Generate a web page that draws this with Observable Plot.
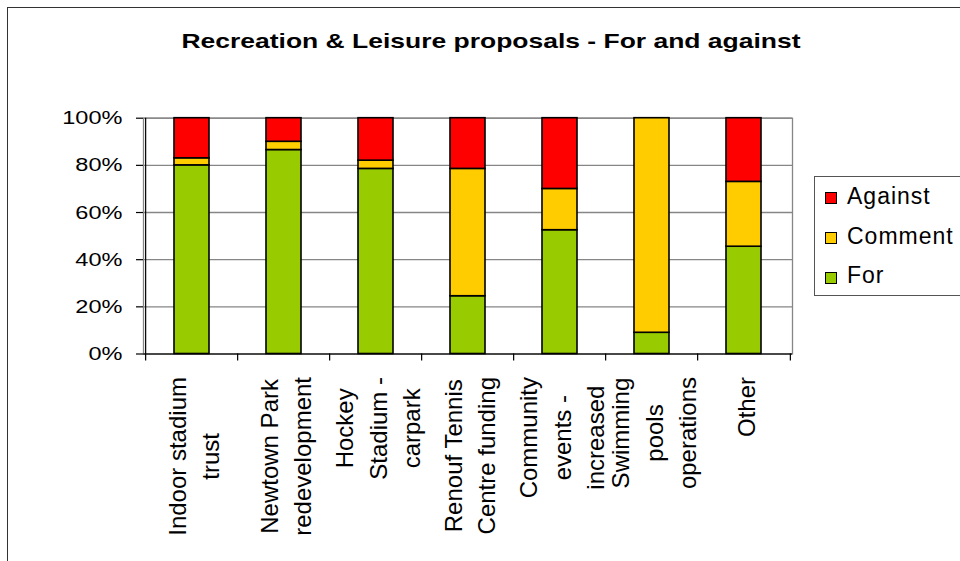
<!DOCTYPE html>
<html>
<head>
<meta charset="utf-8">
<script src="https://cdn.jsdelivr.net/npm/d3@7"></script>
<script src="https://cdn.jsdelivr.net/npm/@observablehq/plot@0.6"></script>
<style>
  html, body { margin: 0; padding: 0; background: #fff; overflow: hidden; }
  #wrap { position: relative; width: 960px; height: 561px; overflow: hidden;
          font-family: "Liberation Sans", Arial, sans-serif; color: #000; }
  #border { position: absolute; left: 7px; top: 7px; width: 1000px; height: 600px;
            border: 1.5px solid #333; box-sizing: border-box; }
  #title { position: absolute; left: 491px; top: 30px; white-space: nowrap;
           font-weight: bold; font-size: 21px; line-height: 21px;
           transform: translateX(-50%) scaleX(1.26); }
  #chart { position: absolute; left: 0; top: 0; }
  #legend { position: absolute; left: 814px; top: 175.5px; width: 200px; height: 120px;
            border: 1px solid #555; box-sizing: border-box; background: #fff; }
  .sw { position: absolute; width: 12px; height: 12px; border: 1px solid #000; box-sizing: border-box; }
  .lt { position: absolute; font-size: 23px; line-height: 23px; letter-spacing: 1px; white-space: nowrap; }
</style>
</head>
<body>
<div id="wrap">
  <div id="border"></div>
  <div id="chart"></div>
  <div id="title"></div>
  <div id="legend"></div>
</div>
<script>
// ---- data ----
const categories = ["Indoor stadium trust", "Newtown Park redevelopment", "Hockey Stadium - carpark",
  "Renouf Tennis Centre funding", "Community events - increased", "Swimming pools operations", "Other"];
const tickLabels = ["Indoor stadium\ntrust", "Newtown Park\nredevelopment", "Hockey\nStadium -\ncarpark",
  "Renouf Tennis\nCentre funding", "Community\nevents -\nincreased", "Swimming\npools\noperations", "Other"];
const seriesNames = ["For", "Comment", "Against"];
const forValues = [80, 86.5, 78.5, 24.5, 52.5, 9, 45.5];
const commentValues = [3, 3.5, 3.5, 54, 17.5, 91, 27.5];
const againstValues = [17, 10, 18, 21.5, 30, 0, 27];
const seriesColors = ["#99CC00", "#FFCC00", "#FF0000"];
const yTicks = [0, 20, 40, 60, 80, 100];
const legendOrder = ["Against", "Comment", "For"];
const titleText = "Recreation & Leisure proposals - For and against";

// ---- table ----
const seriesValues = [forValues, commentValues, againstValues];
const table = [];
seriesNames.forEach((s, si) => categories.forEach((c, ci) => {
  table.push({category: c, series: s, value: seriesValues[si][ci]});
}));

// ---- layout ----
const W = 960, H = 561;
const mT = 117.7, mB = 207.5, mL = 143, mR = 168;
const plotW = W - mL - mR, plotH = H - mT - mB;
const half = plotW / categories.length / 2;
const xFont = 24;

const chart = Plot.plot({
  width: W, height: H,
  marginTop: mT, marginBottom: mB, marginLeft: mL, marginRight: mR,
  style: {fontFamily: "'Liberation Sans', Arial, sans-serif", background: "transparent", color: "#000"},
  x: {domain: categories, paddingInner: 0.62, paddingOuter: 0.31, label: null},
  y: {domain: [0, 100], label: null},
  color: {domain: seriesNames, range: seriesColors},
  marks: [
    Plot.frame({stroke: "#868686", strokeWidth: 1.3}),
    Plot.gridY(yTicks, {stroke: "#868686", strokeOpacity: 1, strokeWidth: 1.3}),
    Plot.barY(table.filter(d => d.value > 0), {x: "category", y: "value", fill: "series", order: seriesNames,
      stroke: "#000", strokeWidth: 1.6}),
    Plot.ruleY([0], {stroke: "#000", strokeWidth: 1.2}),
    Plot.ruleX([categories[0]], {x: d => d, dx: -half, insetBottom: -7, stroke: "#000", strokeWidth: 1.2}),
    Plot.ruleX(categories.slice(1), {x: d => d, dx: -half, insetTop: plotH, insetBottom: -7, stroke: "#000", strokeWidth: 1.2}),
    Plot.ruleX([categories[categories.length - 1]], {x: d => d, dx: half, insetTop: plotH, insetBottom: -7, stroke: "#000", strokeWidth: 1.2}),
    Plot.axisY({ticks: yTicks, tickSize: 7, tickPadding: 14, tickFormat: d => d + "%",
      fontSize: 19, stroke: "#000", strokeWidth: 1.2, label: null}),
    Plot.axisX({tickSize: 0, tickRotate: -90, tickPadding: 23, fontSize: xFont, lineHeight: 1.39,
      tickFormat: d => tickLabels[categories.indexOf(d)], label: null})
  ]
});
document.getElementById("chart").appendChild(chart);

// horizontally stretched y tick labels (as in the reference)
chart.querySelectorAll('g[aria-label="y-axis tick label"] text').forEach(t => {
  let tr = t.getAttribute("transform");
  if (!tr) {
    tr = `translate(${t.getAttribute("x") || 0},${t.getAttribute("y") || 0})`;
    t.removeAttribute("x"); t.removeAttribute("y");
  }
  t.setAttribute("transform", tr + " scale(1.24,1)");
});

// centre the shorter lines of each multi-line rotated x label within its block
const ctx = document.createElement("canvas").getContext("2d");
ctx.font = `${xFont}px "Liberation Sans", Arial, sans-serif`;
chart.querySelectorAll("text").forEach(t => {
  const spans = Array.from(t.getElementsByTagName("tspan"));
  if (spans.length < 2) return;
  let lens = spans.map(s => { try { return s.getComputedTextLength(); } catch (e) { return 0; } });
  if (!(Math.max(...lens) > 0)) lens = spans.map(s => ctx.measureText(s.textContent).width);
  const m = Math.max(...lens);
  spans.forEach((s, i) => s.setAttribute("x", (-(m - lens[i]) / 2).toFixed(2)));
  t.setAttribute("text-anchor", "end");
});

// title
document.getElementById("title").textContent = titleText;

// legend
const legend = document.getElementById("legend");
const color = chart.scale("color");
legendOrder.forEach((name, i) => {
  const sw = document.createElement("div");
  sw.className = "sw";
  sw.style.left = "10px";
  sw.style.top = (15 + i * 40) + "px";
  sw.style.background = color.apply(name);
  legend.appendChild(sw);
  const lt = document.createElement("div");
  lt.className = "lt";
  lt.style.left = "32px";
  lt.style.top = (8.5 + i * 39.5) + "px";
  lt.textContent = name;
  legend.appendChild(lt);
});
</script>
</body>
</html>
